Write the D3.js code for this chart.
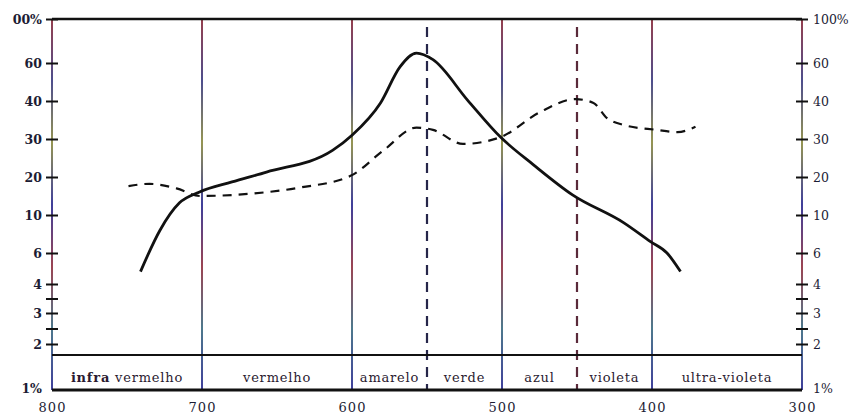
<html>
<head>
<style>
  body { margin: 0; background: #fff; }
  svg { display: block; }
  svg text { font-family: 'DejaVu Serif', 'Liberation Serif', serif; }
  .ylab text { font-weight: bold; font-size: 12.5px; fill: #1c1c34; }
  .xlab text { font-size: 13px; fill: #1c1c34; letter-spacing: 1px; }
  .band { font-size: 13px; fill: #2a1a30; letter-spacing: 0.8px; }
</style>
</head>
<body>
<svg width="853" height="420"></svg>
<script src="https://d3js.org/d3.v7.min.js"></script>
<script>
// values (wavelength in nm, percent)
let yTicks = [1, 2, 2.5, 3, 3.5, 4, 6, 10, 20, 30, 40, 60, 100]
let leftLabels = {1: "1%", 2: "2", 3: "3", 4: "4", 6: "6", 10: "10", 20: "20", 30: "30", 40: "40", 60: "60", 100: "00%"}
let rightLabels = {1: "1%", 2: "2", 3: "3", 4: "4", 6: "6", 10: "10", 20: "20", 30: "30", 40: "40", 60: "60", 100: "100%"}
let xTicks = [800, 700, 600, 500, 400, 300]
let boundaries = [800, 700, 600, 500, 400, 300]
let dashedBounds = [550, 450]
let bands = [
  {name: "infra vermelho", from: 800, to: 700},
  {name: "vermelho", from: 700, to: 600},
  {name: "amarelo", from: 600, to: 550},
  {name: "verde", from: 550, to: 500},
  {name: "azul", from: 500, to: 450},
  {name: "violeta", from: 450, to: 400},
  {name: "ultra-violeta", from: 400, to: 300}
]
let solid = [
  [741, 4.8], [728, 8.4], [715, 13.2], [702, 16], [680, 18.7], [657, 21.3],
  [613, 27], [600, 31], [581, 39.5], [568, 58], [557, 69], [546, 63], [523, 40.5],
  [501, 30.5], [479, 23.2], [453, 15.3], [419, 9.2], [401, 7.2], [390, 6], [381, 4.8]
]
let dashed = [
  [749, 17.6], [735, 18.2], [717, 17], [701, 15], [668, 15.6], [635, 17.2], [601, 20.3],
  [579, 27], [557, 33], [546, 32.4], [526, 28.7], [501, 30.5], [475, 37], [451, 41],
  [439, 39.5], [430, 35.5], [419, 33.7], [397, 32.4], [383, 31.8], [371, 33.2]
]

let svg = d3.select("svg")
let plotTop = 19, plotBottom = 390, bandTop = 355

let x = d3.scaleLinear().domain([800, 300]).range([52, 802])
// the printed scale is not a true log scale, so map tick by tick
let y = d3.scaleLinear()
  .domain([1, 2, 3, 4, 6, 10, 20, 30, 40, 60, 100])
  .range([388, 344, 313, 284, 253, 215, 177, 139, 101, 63, 19])

// scan-like coloured rules
let defs = svg.append("defs")
let grad = defs.append("linearGradient").attr("id", "rule")
  .attr("x1", 0).attr("y1", 0).attr("x2", 0).attr("y2", 1)
  .attr("gradientUnits", "objectBoundingBox")
let stops = ["#8a2a3a", "#3a3a80", "#8a8a40", "#2a2a90", "#903040", "#3a6a80", "#2a2a90"]
stops.forEach((c, i) => grad.append("stop").attr("offset", i / (stops.length - 1)).attr("stop-color", c))

svg.append("g")
  .selectAll("rect")
  .data(boundaries)
  .enter().append("rect")
  .attr("x", d => x(d) - 0.9)
  .attr("y", plotTop)
  .attr("width", 1.8)
  .attr("height", plotBottom - plotTop)
  .style("fill", "url(#rule)")

svg.append("g")
  .selectAll("line")
  .data(dashedBounds)
  .enter().append("line")
  .attr("x1", d => x(d)).attr("x2", d => x(d))
  .attr("y1", 27).attr("y2", plotBottom)
  .style("stroke", (d, i) => i == 0 ? "#26264a" : "#5a2a3a")
  .style("stroke-width", 2.2)
  .style("stroke-dasharray", "10,7")

// frame: top rule and the band
svg.append("line").attr("x1", x(800)).attr("x2", x(300)).attr("y1", plotTop).attr("y2", plotTop)
  .style("stroke", "#111").style("stroke-width", 2.6)
svg.append("line").attr("x1", x(800)).attr("x2", x(300)).attr("y1", bandTop).attr("y2", bandTop)
  .style("stroke", "#111").style("stroke-width", 2.2)
svg.append("line").attr("x1", x(800)).attr("x2", x(300)).attr("y1", plotBottom).attr("y2", plotBottom)
  .style("stroke", "#111").style("stroke-width", 2.8)

svg.append("g")
  .selectAll("text")
  .data(bands)
  .enter().append("text")
  .attr("class", "band")
  .attr("x", d => (x(d.from) + x(d.to)) / 2)
  .attr("y", 382)
  .attr("text-anchor", "middle")
  .html(d => d.name == "infra vermelho" ? "<tspan font-weight='bold'>infra</tspan> vermelho" : d.name)

// axes
let left = svg.append("g").attr("class", "ylab")
  .attr("transform", "translate(" + x(800) + ",0)")
  .call(d3.axisLeft(y).tickValues(yTicks).tickFormat(d => leftLabels[d] || "").tickSize(6).tickPadding(4))
left.attr("font-family", null)
left.select(".domain").remove()
left.selectAll(".tick line").attr("x1", -6).attr("x2", 6).style("stroke", "#111").style("stroke-width", 2)
left.selectAll(".tick").filter(d => d == 1).select("line").remove()

let right = svg.append("g").attr("class", "ylab")
  .attr("transform", "translate(" + x(300) + ",0)")
  .call(d3.axisRight(y).tickValues(yTicks).tickFormat(d => rightLabels[d] || "").tickSize(6).tickPadding(5))
right.attr("font-family", null)
right.select(".domain").remove()
right.selectAll(".tick line").attr("x1", -6).attr("x2", 6).style("stroke", "#111").style("stroke-width", 2)
right.selectAll(".tick").filter(d => d == 1).select("line").remove()
right.selectAll(".tick text").style("font-weight", "normal")

let bottomAxis = svg.append("g").attr("class", "xlab")
  .attr("transform", "translate(0," + (plotBottom + 9) + ")")
  .call(d3.axisBottom(x).tickValues(xTicks).tickSize(0).tickPadding(4))
bottomAxis.attr("font-family", null)
bottomAxis.select(".domain").remove()

// curves
let line = d3.line()
  .x(d => x(d[0]))
  .y(d => y(d[1]))
  .curve(d3.curveMonotoneX)

svg.append("path")
  .attr("d", line(dashed))
  .style("fill", "none")
  .style("stroke", "#111")
  .style("stroke-width", 2.2)
  .style("stroke-dasharray", "9,7")

svg.append("path")
  .attr("d", line(solid))
  .style("fill", "none")
  .style("stroke", "#111")
  .style("stroke-width", 2.8)
</script>
</body>
</html>
